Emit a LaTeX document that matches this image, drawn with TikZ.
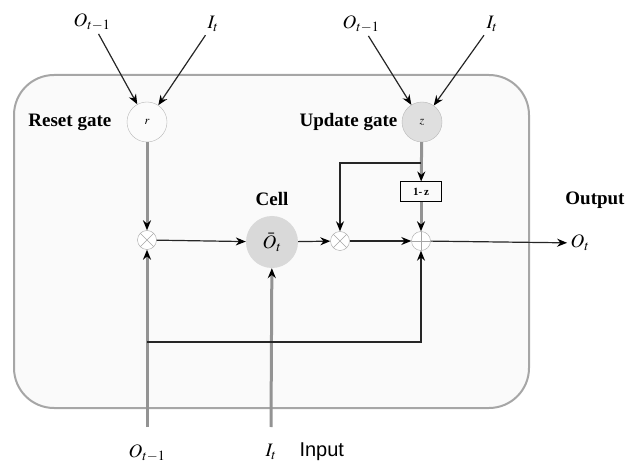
\documentclass[tikz,border=0pt]{standalone}
\usepackage{mathptmx}
\usepackage{fontspec}
\setmainfont{Liberation Serif}
\setsansfont{Liberation Sans}
\usetikzlibrary{arrows.meta,positioning}

\begin{document}
\begin{tikzpicture}[
  x=1pt,y=-1pt,
  font=\fontsize{19}{22}\selectfont,
  gate/.style={circle,draw=gray!55,minimum size=40pt,inner sep=0pt,font=\fontsize{12}{13}\selectfont},
  opnode/.style={circle,draw=gray!70,fill=white,minimum size=19pt,inner sep=0pt},
  times/.style={opnode,path picture={\draw[gray!70]
      (path picture bounding box.north west) -- (path picture bounding box.south east)
      (path picture bounding box.north east) -- (path picture bounding box.south west);}},
  plus/.style={opnode,path picture={\draw[gray!70]
      (path picture bounding box.north) -- (path picture bounding box.south)
      (path picture bounding box.east) -- (path picture bounding box.west);}},
  caption/.style={font=\bfseries\fontsize{19}{22}\selectfont},
  flow/.style={draw=gray!85,line width=3pt},
  link/.style={draw=black!85,line width=1.2pt},
  tip/.style={-{Stealth[length=10pt,width=8pt,black]}}
]
  \useasboundingbox (0,0) rectangle (629,470);
  \draw[gray!70,line width=2pt,fill=gray!4,rounded corners=40pt] (14,75) rectangle (529,408);

  % gates and operations
  \node[gate,fill=gray!3] (reset) at (147,122) {$r$};
  \node[gate,fill=gray!25] (update) at (422,122) {$z$};
  \node[caption,left=12pt of reset] {Reset gate};
  \node[caption,left=1pt of update] {Update gate};
  \node[times] (mulr) at (147,240) {};
  \node[circle,fill=gray!30,minimum size=52pt,inner sep=0pt] (cell) at (272,242) {$\bar{O}_t$};
  \node[caption,above=7pt of cell] {Cell};
  \node[times] (mulz) at (340,241) {};
  \node[plus] (sum) at (421,241) {};
  \node[draw,line width=1pt,minimum width=41pt,minimum height=20pt,inner sep=0pt,
        font=\bfseries\fontsize{11}{12}\selectfont] (inv) at (421,192) {1-\,z};

  % inputs and output
  \node (otop1) at (92,22) {$O_{t-1}$};
  \node (itop1) at (213,24) {$I_t$};
  \node (otop2) at (361,24) {$O_{t-1}$};
  \node (itop2) at (492,24) {$I_t$};
  \node (out) at (580,243) {$O_t$};
  \node[caption] at (595,200) {Output};
  \coordinate (obot) at (147,427);
  \coordinate (ibot) at (271,427);
  \node[below=14pt of obot] (olabel) {$O_{t-1}$};
  \node[below=14pt of ibot] (ilabel) {$I_t$};
  \node[font=\sffamily\fontsize{20}{22}\selectfont,right=16pt of ilabel.base east,anchor=base west] {Input};
  \coordinate (split) at (147,342);
  \coordinate (fork) at (421,163);

  \draw[link,tip] (otop1) -- (reset);
  \draw[link,tip] (itop1) -- (reset);
  \draw[link,tip] (otop2) -- (update);
  \draw[link,tip] (itop2) -- (update);
  \draw[flow,tip] (reset) -- (mulr);
  \draw[flow,tip] (obot) -- (mulr);
  \draw[flow,tip] (ibot) -- (cell);
  \draw[link,tip] (mulr) -- (cell);
  \draw[link,tip] (cell) -- (mulz);
  \draw[link,tip] (mulz) -- (sum);
  \draw[flow,tip] (update) -- (inv);
  \draw[flow,tip] (inv) -- (sum);
  \draw[link,tip] (fork) -| (mulz);
  \draw[link,tip] (split) -| (sum);
  \draw[link,tip] (sum) -- (out);
\end{tikzpicture}
\end{document}
